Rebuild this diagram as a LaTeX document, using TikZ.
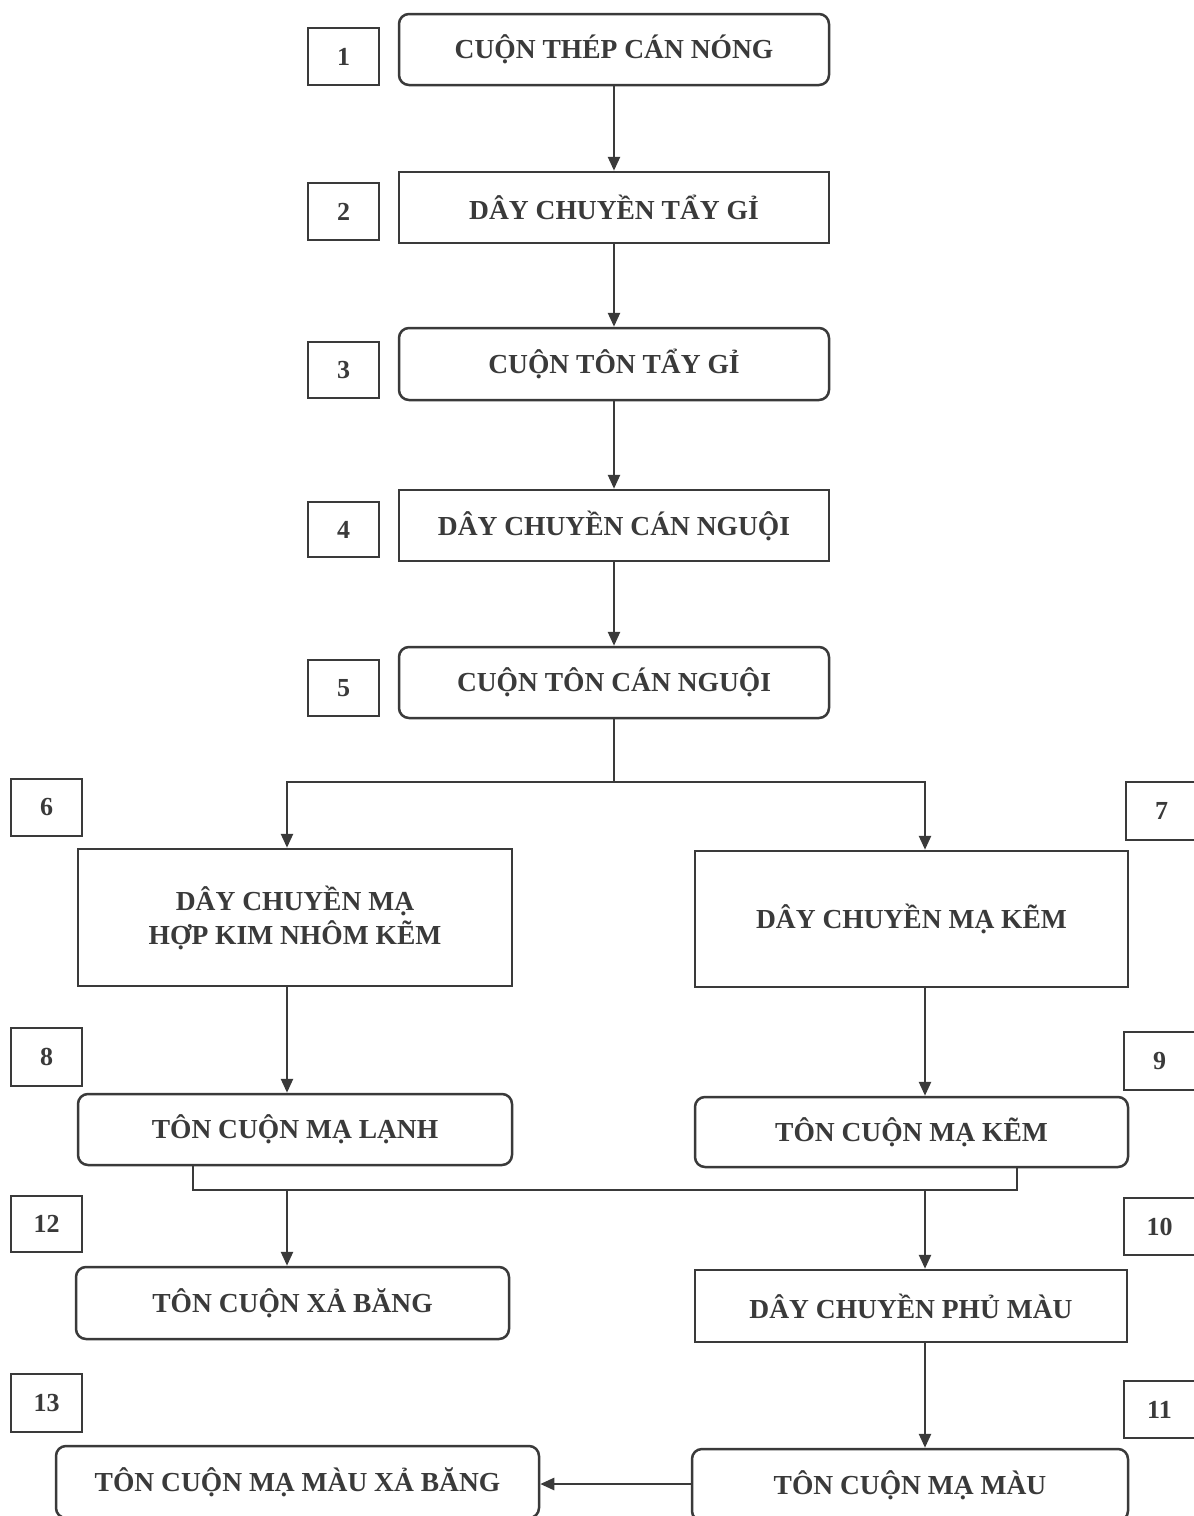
\documentclass[tikz,border=0pt]{standalone}
\usepackage{fontspec}
\setmainfont{Liberation Serif}
\usetikzlibrary{arrows.meta}
\definecolor{ink}{HTML}{3A3A3A}
\tikzset{
  base/.style={draw=ink, line width=2.5pt, text=ink, font=\fontsize{27.5}{34}\selectfont\bfseries, align=center, inner sep=0pt},
  rbox/.style={base, rounded corners=10pt},
  sbox/.style={base},
  numbox/.style={draw=ink, line width=2.5pt, text=ink, font=\fontsize{26}{30}\selectfont\bfseries, inner sep=0pt, minimum width=71pt},
  conn/.style={draw=ink, line width=2.5pt},
  arr/.style={conn, -{Triangle[length=14pt,width=12pt]}},
}
\begin{document}
\begin{tikzpicture}[x=1pt,y=-1pt]
\clip (0,0) rectangle (1194,1516);
\fill[white] (0,0) rectangle (1194,1516);
% main column
\node[rbox, minimum width=430pt, minimum height=71pt] (b1) at (614,49.5) {CUỘN THÉP CÁN NÓNG};
\node[sbox, minimum width=430pt, minimum height=71pt] (b2) at (614,207.5) {DÂY CHUYỀN TẨY GỈ};
\node[rbox, minimum width=430pt, minimum height=72pt] (b3) at (614,364) {CUỘN TÔN TẨY GỈ};
\node[sbox, minimum width=430pt, minimum height=71pt] (b4) at (614,525.5) {DÂY CHUYỀN CÁN NGUỘI};
\node[rbox, minimum width=430pt, minimum height=71pt] (b5) at (614,682.5) {CUỘN TÔN CÁN NGUỘI};
\node[numbox, minimum height=57pt] (n1) at (343.5,56.5) {1};
\node[numbox, minimum height=57pt] (n2) at (343.5,211.5) {2};
\node[numbox, minimum height=56pt] (n3) at (343.5,370) {3};
\node[numbox, minimum height=55pt] (n4) at (343.5,529.5) {4};
\node[numbox, minimum height=56pt] (n5) at (343.5,688) {5};
% branches
\node[sbox, minimum width=434pt, minimum height=137pt] (b6) at (295,917.5) {DÂY CHUYỀN MẠ\\HỢP KIM NHÔM KẼM};
\node[sbox, minimum width=433pt, minimum height=136pt] (b7) at (911.5,919) {DÂY CHUYỀN MẠ KẼM};
\node[numbox, minimum height=57pt] (n6) at (46.5,807.5) {6};
\node[numbox, minimum height=58pt] (n7) at (1161.5,811) {7};
\node[rbox, minimum width=434pt, minimum height=71pt] (b8) at (295,1129.5) {TÔN CUỘN MẠ LẠNH};
\node[rbox, minimum width=433pt, minimum height=70pt] (b9) at (911.5,1132) {TÔN CUỘN MẠ KẼM};
\node[numbox, minimum height=58pt] (n8) at (46.5,1057) {8};
\node[numbox, minimum height=58pt] (n9) at (1159.5,1061) {9};
\node[rbox, minimum width=433pt, minimum height=72pt] (b12) at (292.5,1303) {TÔN CUỘN XẢ BĂNG};
\node[sbox, minimum width=432pt, minimum height=72pt] (b10) at (911,1306) {DÂY CHUYỀN PHỦ MÀU};
\node[numbox, minimum height=56pt] (n12) at (46.5,1224) {12};
\node[numbox, minimum height=57pt] (n10) at (1159.5,1226.5) {10};
\node[rbox, minimum width=483pt, minimum height=72pt] (b13) at (297.5,1482) {TÔN CUỘN MẠ MÀU XẢ BĂNG};
\node[rbox, minimum width=436pt, minimum height=72pt] (b11) at (910,1485) {TÔN CUỘN MẠ MÀU};
\node[numbox, minimum height=58pt] (n13) at (46.5,1403) {13};
\node[numbox, minimum height=57pt] (n11) at (1159.5,1409.5) {11};
% connectors
\draw[arr] (b1) -- (b2);
\draw[arr] (b2) -- (b3);
\draw[arr] (b3) -- (b4);
\draw[arr] (b4) -- (b5);
\coordinate (sp) at (614,782);
\draw[conn] (b5.south) -- (sp);
\draw[arr] (sp) -| ([xshift=-8pt]b6.north);
\draw[arr] (sp) -| ([xshift=13.5pt]b7.north);
\draw[arr] ([xshift=-8pt]b6.south) -- ([xshift=-8pt]b8.north);
\draw[arr] ([xshift=13.5pt]b7.south) -- ([xshift=13.5pt]b9.north);
\coordinate (mL) at (193,1190);
\coordinate (mR) at (1017,1190);
\draw[conn] ([xshift=-102pt]b8.south) -- (mL) -- (mR) -- ([xshift=105.5pt]b9.south);
\coordinate (m12) at (287,1190);
\coordinate (m10) at (925,1190);
\draw[arr] (m12) -- (m12 |- b12.north);
\draw[arr] (m10) -- (m10 |- b10.north);
\draw[arr] ([xshift=14pt]b10.south) -- ([xshift=14pt]b10.south |- b11.north);
\draw[arr] (b11.west |- 0,1484) -- (b13.east |- 0,1484);
\end{tikzpicture}
\end{document}
